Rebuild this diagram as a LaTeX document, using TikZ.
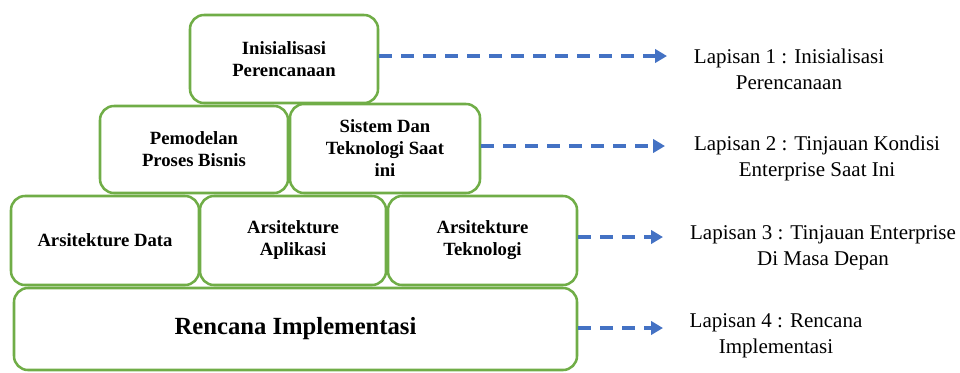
\documentclass[tikz,border=0pt]{standalone}
\usepackage{fontspec}
\setmainfont{LiberationSerif}[Extension=.ttf,UprightFont=*-Regular,BoldFont=*-Bold,ItalicFont=*-Italic,BoldItalicFont=*-BoldItalic]
\usetikzlibrary{arrows.meta}
\definecolor{lapisgreen}{HTML}{70AD47}
\definecolor{lapisblue}{HTML}{4472C4}

\begin{document}
\begin{tikzpicture}[
        x=0.75pt, y=-0.75pt,
        blok/.style={draw=lapisgreen,line width=1.9pt,rounded corners=10.5pt,align=center,
            font=\bfseries\fontsize{14}{16.5}\selectfont,inner sep=2pt},
        lapis/.style={align=center,font=\fontsize{15.75}{19.5}\selectfont,inner sep=0pt},
        panah/.style={draw=lapisblue,line width=2.6pt,dash pattern=on 9.75pt off 6.75pt,
            -{Triangle[length=9pt,width=10pt]}}
    ]
        \useasboundingbox (0,0) rectangle (960,372);

        \node [blok,minimum width=422.25pt,minimum height=61.5pt,
            font=\bfseries\fontsize{18.5}{22}\selectfont] (rencana) at (295.5,329) {Rencana Implementasi};
        \node [blok,minimum width=141pt,minimum height=66.75pt]    (data)      at (105,240.5)   {Arsitekture Data};
        \node [blok,minimum width=139.5pt,minimum height=66.75pt]  (aplikasi)  at (293,240.5)   {Arsitekture\\Aplikasi};
        \node [blok,minimum width=141.75pt,minimum height=66.75pt] (teknologi) at (482.5,240.5) {Arsitekture\\Teknologi};
        \node [blok,minimum width=141pt,minimum height=65.25pt]    (pemodelan) at (194,149.5)   {Pemodelan\\Proses Bisnis};
        \node [blok,minimum width=142.5pt,minimum height=66.75pt]  (sistem)    at (385,148.5)   {Sistem Dan\\Teknologi Saat\\ini};
        \node [blok,minimum width=141pt,minimum height=66pt]       (init)      at (284,59)      {Inisialisasi\\Perencanaan};

        \node [lapis] (lap1) at (789,69)  {Lapisan 1 : Inisialisasi\\Perencanaan};
        \node [lapis] (lap2) at (817,158) {Lapisan 2 : Tinjauan Kondisi\\Enterprise Saat Ini};
        \node [lapis] (lap3) at (823,248) {Lapisan 3 : Tinjauan Enterprise\\Di Masa Depan};
        \node [lapis] (lap4) at (776,336) {Lapisan 4 : Rencana\\Implementasi};

        \coordinate (ujung1) at (667,56);
        \coordinate (ujung2) at (665,146);
        \coordinate (ujung3) at (663,237);
        \coordinate (ujung4) at (663,328);

        \draw [panah] (init.east |- ujung1) -- (ujung1);
        \draw [panah] (sistem.east |- ujung2) -- (ujung2);
        \draw [panah] (teknologi.east |- ujung3) -- (ujung3);
        \draw [panah] (rencana.east |- ujung4) -- (ujung4);
    \end{tikzpicture}
\end{document}
